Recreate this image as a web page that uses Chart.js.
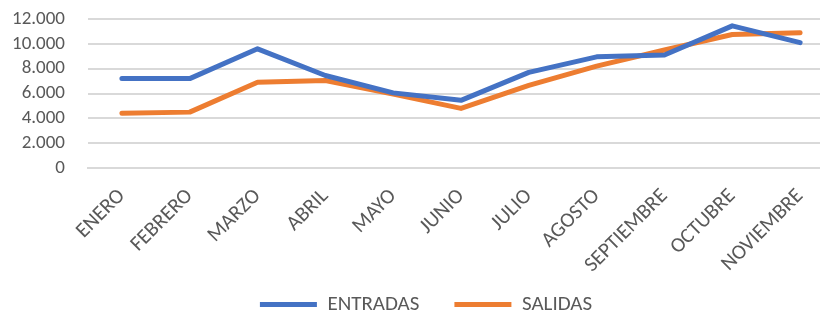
<!DOCTYPE html>
<html>
<head>
<meta charset="utf-8">
<script src="https://cdn.jsdelivr.net/npm/chart.js@4"></script>
<style>
html,body{margin:0;padding:0;background:#fff;overflow:hidden;}
#wrap{width:852px;height:315px;position:relative;}
</style>
</head>
<body>
<div id="wrap"><canvas id="c" width="852" height="315"></canvas></div>
<script>
const categories = ["ENERO","FEBRERO","MARZO","ABRIL","MAYO","JUNIO","JULIO","AGOSTO","SEPTIEMBRE","OCTUBRE","NOVIEMBRE"];
const entradas = [7200, 7200, 9600, 7450, 6050, 5450, 7700, 8950, 9100, 11450, 10100];
const salidas  = [4400, 4500, 6900, 7050, 5950, 4800, 6650, 8200, 9500, 10750, 10900];
const seriesNames = ["ENTRADAS", "SALIDAS"];
const yTicks = [0, 2000, 4000, 6000, 8000, 10000, 12000];

function fmt(v){ return String(v).replace(/\B(?=(\d{3})+(?!\d))/g, "."); }

const FONT = "Carlito, Lato, 'Liberation Sans', sans-serif";
const TXT = "#595959";
const noClip = () => undefined;

new Chart(document.getElementById('c'), {
  type: 'line',
  data: {
    labels: categories,
    datasets: [
      { label: seriesNames[0], data: entradas, borderColor: '#4472C4', backgroundColor: '#4472C4', borderWidth: 5, pointRadius: 0, tension: 0, borderCapStyle: 'round', borderJoinStyle: 'round' },
      { label: seriesNames[1], data: salidas, borderColor: '#ED7D31', backgroundColor: '#ED7D31', borderWidth: 5, pointRadius: 0, tension: 0, borderCapStyle: 'round', borderJoinStyle: 'round' }
    ]
  },
  options: {
    responsive: false,
    animation: false,
    layout: { padding: { left: 18, right: 18, top: 19, bottom: 0 } },
    plugins: {
      tooltip: { enabled: false },
      legend: {
        position: 'bottom',
        maxHeight: 56,
        labels: {
          usePointStyle: true,
          pointStyle: 'line',
          pointStyleWidth: 57,
          boxHeight: 21,
          padding: 35,
          color: TXT,
          font: { family: FONT, size: 21 }
        }
      }
    },
    scales: {
      x: {
        offset: true,
        grid: { display: false, drawTicks: false },
        border: { display: true, color: '#D9D9D9', width: 2 },
        ticks: { color: TXT, font: { family: FONT, size: 21 }, minRotation: 45, maxRotation: 45, padding: 16, autoSkip: false },
        afterFit: (s) => { s.height = 91; s.paddingLeft = 0; s.paddingRight = 0; s._computeLabelArea = noClip; }
      },
      y: {
        min: 0, max: 12000,
        afterBuildTicks: (s) => { s.ticks = yTicks.map(v => ({ value: v })); },
        grid: { color: '#D9D9D9', lineWidth: 2, drawTicks: false },
        border: { display: false },
        ticks: { color: TXT, font: { family: FONT, size: 19 }, padding: 23, autoSkip: false, callback: (v) => fmt(v) },
        afterFit: (s) => { s.width = 70; s.paddingTop = 0; s.paddingBottom = 0; s._computeLabelArea = noClip; }
      }
    }
  }
});
</script>
</body>
</html>
